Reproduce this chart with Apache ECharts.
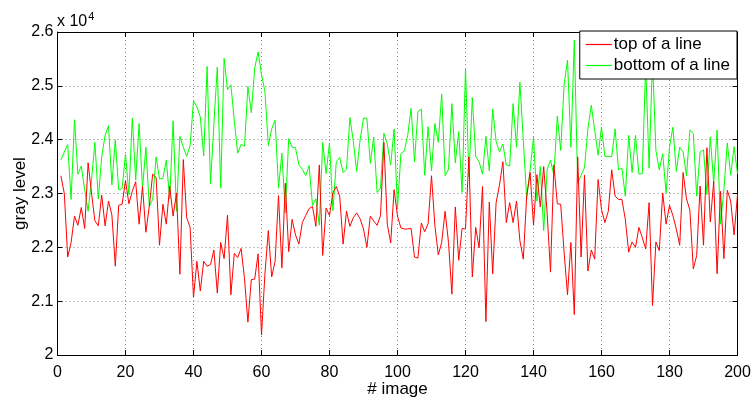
<!DOCTYPE html>
<html>
<head>
<meta charset="utf-8">
<script src="https://cdn.jsdelivr.net/npm/echarts@6/dist/echarts.min.js"></script>
<style>html,body{margin:0;padding:0;background:#fff}#c{width:754px;height:402px}</style>
</head>
<body>
<div id="c"></div>
<script>
const seriesNames = ['top of a line', 'bottom of a line'];
const xTicks = [0, 20, 40, 60, 80, 100, 120, 140, 160, 180, 200];
const yTickLabels = ['2', '2.1', '2.2', '2.3', '2.4', '2.5', '2.6'];
const topLine = [
23330,23000,21820,22090,22580,22410,22740,22350,23570,23010,
22490,22400,22970,22400,22860,22600,21650,22780,22800,23240,
22810,23040,23220,22430,23130,22280,22760,23360,23300,22040,
22800,22430,23140,22580,23010,21500,23630,22550,22370,21070,
21740,21190,21740,21650,21680,21950,21150,22090,21790,22600,
21120,21890,21810,21980,21420,20610,21400,21410,21880,20370,
21500,22310,21450,21740,22960,21620,23190,21920,22520,22230,
22060,22460,22590,22720,22760,22390,23530,21850,22730,22590,
23010,23130,22950,22060,22670,22390,22550,22640,22530,22340,
22000,22580,22490,22410,22590,23950,22430,22080,23070,22580,
22360,22340,22340,22350,21820,21800,22450,22290,22440,23330,
22400,21860,22090,22670,22090,21130,22750,21760,22350,22340,
23680,21450,22370,21990,23130,20620,22840,21510,22830,23160,
23590,22460,22830,22460,22860,22120,21780,22950,23390,22410,
23350,22750,23500,22650,21540,23530,22810,22800,21910,21120,
22090,20750,23680,21820,23340,21560,21950,21780,23260,22700,
22460,22670,23440,22950,22890,22890,22520,21910,22100,22000,
22370,22180,21970,22830,20920,22100,21940,23010,22430,22780,
22590,22340,22040,23390,22900,22690,21600,21850,23140,22040,
23850,22470,23220,21510,23040,21790,23060,22860,22230,22980
];
const bottomLine = [
23620,23770,23910,22890,24370,23360,23510,23070,22670,23250,
23950,22900,23680,24080,24260,23160,24000,23070,23090,23730,
22980,24400,23250,24300,23100,23860,22760,22890,23680,23270,
23280,23620,22900,24350,22670,24060,23860,23690,23890,24720,
24610,24420,23700,25360,23180,24290,25350,23100,25510,24930,
25020,24350,23750,23910,23880,24990,24500,25330,25630,25210,
24900,23890,24200,24360,23100,23750,22640,24020,23860,23850,
23530,23450,23330,23520,22780,22900,22410,23950,23370,23940,
22680,23590,23670,23390,23450,24410,23970,23410,23990,24400,
24400,23560,24050,23020,23100,24120,23920,23530,24200,22730,
23740,23790,24080,24580,23590,24520,24570,23340,24240,23420,
24300,23950,24850,23330,23450,24670,23570,24150,23020,25330,
23310,24780,23690,23590,23360,24060,23420,24570,23970,23770,
23920,23530,23510,24670,23860,25070,23990,22910,23440,24050,
22860,23500,22310,23440,23620,23340,24440,23800,25020,25480,
23860,25850,23190,23340,23480,24200,24640,24170,23710,24230,
23690,23690,23680,24200,23440,23470,22950,24080,23390,24080,
23360,23370,25400,23470,25500,23800,23440,23740,23010,23860,
24230,23410,23860,23770,23330,24180,24110,22950,23770,23810,
22980,24050,23190,24180,22430,23070,23940,23340,23870,23370
];

const toPairs = arr => arr.map((v, i) => [i + 1, v]);
const F = 'Liberation Sans, Arial, Helvetica, sans-serif';

const chart = echarts.init(document.getElementById('c'));
chart.setOption({
  animation: false,
  backgroundColor: '#fff',
  grid: { left: 57.5, right: 16.5, top: 32, bottom: 47, containLabel: false, outerBoundsMode: 'none' },
  graphic: [{
    type: 'text', left: 57, top: 11,
    style: {
      text: '{a|x 10}{b|4}',
      rich: {
        a: { fontSize: 16, fontFamily: F, fill: '#000', verticalAlign: 'bottom' },
        b: { fontSize: 11, fontFamily: F, fill: '#000', verticalAlign: 'top', padding: [0, 0, 8, 1] }
      }
    }
  }],
  legend: {
    orient: 'vertical',
    right: 17, top: 31,
    backgroundColor: '#fff',
    borderColor: '#000', borderWidth: 1,
    padding: [5, 7, 5, 6],
    itemGap: 4,
    itemWidth: 26, itemHeight: 1.2,
    icon: 'rect',
    textStyle: { fontSize: 17, fontFamily: F, color: '#000', padding: [0, 0, 0, -3] },
    data: seriesNames
  },
  xAxis: [{
    type: 'value', min: 0, max: 200, interval: 20,
    name: '# image', nameLocation: 'middle', nameGap: 26, nameMoveOverlap: false,
    nameTextStyle: { fontSize: 17, fontFamily: F, color: '#000' },
    axisLine: { show: true, onZero: false, lineStyle: { color: '#000', width: 1 } },
    axisTick: { show: true, inside: true, length: 5, lineStyle: { color: '#000' } },
    axisLabel: { fontSize: 16, fontFamily: F, color: '#000', margin: 10,
      formatter: v => xTicks.includes(v) ? String(v) : '' },
    splitLine: { show: true, lineStyle: { color: '#888', type: [1, 3], width: 1 } }
  }, {
    type: 'value', min: 0, max: 200, interval: 20, position: 'top',
    axisLine: { show: true, onZero: false, lineStyle: { color: '#000', width: 1 } },
    axisTick: { show: true, inside: true, length: 5, lineStyle: { color: '#000' } },
    axisLabel: { show: false }, splitLine: { show: false }
  }],
  yAxis: [{
    type: 'value', min: 20000, max: 26000, interval: 1000,
    name: 'gray level', nameLocation: 'middle', nameGap: 29, nameRotate: 90, nameMoveOverlap: false,
    nameTextStyle: { fontSize: 17, fontFamily: F, color: '#000' },
    axisLine: { show: true, onZero: false, lineStyle: { color: '#000', width: 1 } },
    axisTick: { show: true, inside: true, length: 5, lineStyle: { color: '#000' } },
    axisLabel: { fontSize: 16, fontFamily: F, color: '#000', margin: 4,
      formatter: v => yTickLabels[Math.round((v - 20000) / 1000)] },
    splitLine: { show: true, lineStyle: { color: '#888', type: [1, 3], width: 1 } }
  }, {
    type: 'value', min: 20000, max: 26000, interval: 1000, position: 'right',
    axisLine: { show: true, onZero: false, lineStyle: { color: '#000', width: 1 } },
    axisTick: { show: true, inside: true, length: 5, lineStyle: { color: '#000' } },
    axisLabel: { show: false }, splitLine: { show: false }
  }],
  series: [{
    name: seriesNames[0], type: 'line', data: toPairs(topLine),
    symbol: 'none', lineStyle: { color: '#ff0000', width: 1 }, itemStyle: { color: '#ff0000' },
    z: 3
  }, {
    name: seriesNames[1], type: 'line', data: toPairs(bottomLine),
    symbol: 'none', lineStyle: { color: '#00ff00', width: 1 }, itemStyle: { color: '#00ff00' },
    z: 2
  }]
});
</script>
</body>
</html>
